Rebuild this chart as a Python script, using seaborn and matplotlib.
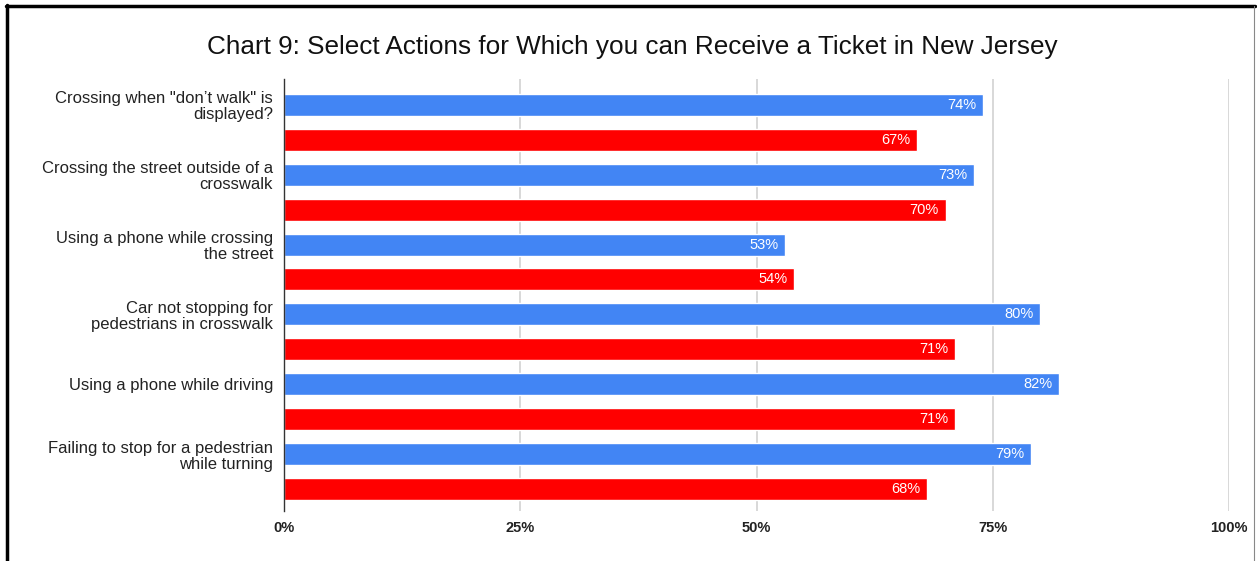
import matplotlib
matplotlib.use("Agg")
import matplotlib.pyplot as plt
from matplotlib.lines import Line2D
import seaborn as sns
import pandas as pd

categories = [
    'Crossing when "don\u2019t walk" is\ndisplayed?',
    "Crossing the street outside of a\ncrosswalk",
    "Using a phone while crossing\nthe street",
    "Car not stopping for\npedestrians in crosswalk",
    "Using a phone while driving",
    "Failing to stop for a pedestrian\nwhile turning",
]
blue_values = [74, 73, 53, 80, 82, 79]
red_values = [67, 70, 54, 71, 71, 68]
x_ticks = [0, 25, 50, 75, 100]
x_tick_labels = ["0%", "25%", "50%", "75%", "100%"]

BLUE = "#4285F4"
RED = "#FF0000"

# each category gets two rows: blue bar on the labelled row, red bar below it
rows, vals, series = [], [], []
for i, (b, r) in enumerate(zip(blue_values, red_values)):
    rows += [f"{i}a", f"{i}b"]
    vals += [b, r]
    series += ["blue", "red"]
df = pd.DataFrame({"row": rows, "value": vals, "series": series})

sns.set_theme(style="white")
plt.rcParams["font.family"] = ["Liberation Sans", "DejaVu Sans"]

fig = plt.figure(figsize=(12.57, 5.61), dpi=100)
W, H = 1257, 561
ax = fig.add_axes([284 / W, 1 - 511 / H, (1229 - 284) / W, (511 - 79) / H])

sns.barplot(
    data=df, x="value", y="row", hue="series", order=rows,
    palette={"blue": BLUE, "red": RED}, dodge=False, width=0.63,
    saturation=1, legend=False, ax=ax, zorder=3,
)

ax.set_xlim(0, 100)
ax.set_ylim(len(rows) - 1 + 0.63, -0.74)
ax.set_xticks(x_ticks)
ax.set_xticklabels(x_tick_labels, fontsize=10.5, fontweight="bold", color="#222222")
ax.tick_params(axis="x", length=0, pad=7)
ax.set_yticks(range(len(rows)))
ax.set_yticklabels([x for c in categories for x in (c, "")],
                   fontsize=12.0, color="#222222", linespacing=1.08)
ax.tick_params(axis="y", length=0, pad=8)
ax.set_xlabel("")
ax.set_ylabel("")

for t in x_ticks[1:]:
    ax.axvline(t, color="#d6d6d6", lw=1.3, zorder=1)
for s in ["top", "right", "bottom"]:
    ax.spines[s].set_visible(False)
ax.spines["left"].set_color("#333333")
ax.spines["left"].set_linewidth(1.0)
ax.spines["left"].set_zorder(4)

# value labels inside the bar ends
for k, v in enumerate(vals):
    ax.text(v - 0.7, k, f"{v}%", ha="right", va="center",
            color="white", fontsize=10.5, zorder=5)

fig.text(632 / W, 1 - 47 / H,
         "Chart 9: Select Actions for Which you can Receive a Ticket in New Jersey",
         ha="center", va="center", fontsize=18.8, color="#111111")

# outer frame
fig.add_artist(Line2D([7 / W, 7 / W], [0, 1 - 5 / H], color="black", lw=2.5,
                      transform=fig.transFigure))
fig.add_artist(Line2D([6 / W, 1255 / W], [1 - 6 / H, 1 - 6 / H], color="black",
                      lw=2.5, transform=fig.transFigure))
fig.add_artist(Line2D([1254 / W, 1254 / W], [0, 1 - 6 / H], color="#888888",
                      lw=0.8, transform=fig.transFigure))

fig.savefig("out.png", dpi=100)
